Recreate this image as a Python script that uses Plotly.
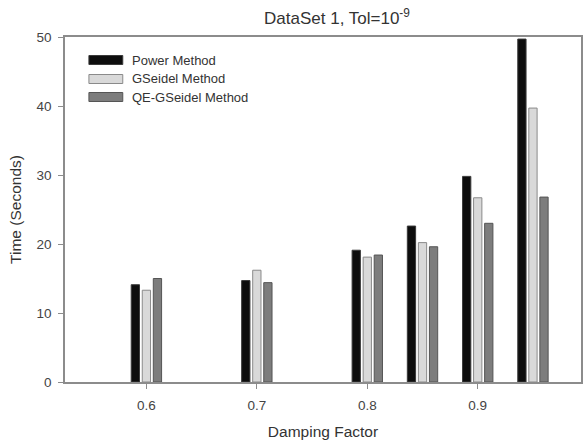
import plotly.graph_objects as go

damping = [0.6, 0.7, 0.8, 0.85, 0.9, 0.95]
power = [14.1, 14.7, 19.1, 22.6, 29.8, 49.7]
gseidel = [13.3, 16.2, 18.1, 20.2, 26.7, 39.7]
qe_gseidel = [15.0, 14.4, 18.4, 19.6, 23.0, 26.8]
series_names = ["Power Method", "GSeidel Method", "QE-GSeidel Method"]
x_ticks = [0.6, 0.7, 0.8, 0.9]
y_ticks = [0, 10, 20, 30, 40, 50]

fills = ["#0d0d0d", "#d9d9d9", "#7d7d7d"]
outlines = ["#3a3a3a", "#8a8a8a", "#555555"]
FONT = "Liberation Sans, Arial, sans-serif"

fig = go.Figure()
for name, vals, fc, lc in zip(series_names, [power, gseidel, qe_gseidel], fills, outlines):
    fig.add_trace(go.Bar(x=damping, y=vals, name=name, marker=dict(color=fc, line=dict(color=lc, width=1)),
                         showlegend=False))

W, H = 584, 443
L, R, T, B = 65, 1, 37, 61
pw, ph = W - L - R, H - T - B

# manual legend (wide swatches like the reference)
leg_y = [60, 79, 97]
for name, fc, lc, yc in zip(series_names, fills, outlines, leg_y):
    y0 = (H - B - (yc + 4.5)) / ph
    y1 = (H - B - (yc - 4.5)) / ph
    fig.add_shape(type="rect", xref="paper", yref="paper",
                  x0=(89 - L) / pw, x1=(123 - L) / pw, y0=y0, y1=y1,
                  fillcolor=fc, line=dict(color=lc, width=1))
    fig.add_annotation(xref="paper", yref="paper", x=(130 - L) / pw, y=(H - B - yc) / ph,
                       text=name, showarrow=False, xanchor="left", yanchor="middle",
                       font=dict(family=FONT, size=13, color="#333333"))

axis_line = "#8c8c8c"
fig.update_layout(
    width=W, height=H,
    margin=dict(l=L, r=R, t=T, b=B, pad=0),
    paper_bgcolor="white", plot_bgcolor="white",
    barmode="group", bargap=0.4, bargroupgap=0.25,
    title=dict(text="DataSet 1, Tol=10<sup>-9</sup>", x=337 / W, xref="container", xanchor="center",
               y=1 - 18 / H, yref="container", yanchor="middle",
               font=dict(family=FONT, size=17, color="#333333")),
    xaxis=dict(range=[0.5263, 0.9935], tickmode="array", tickvals=x_ticks,
               ticktext=[f"{v:.1f}" for v in x_ticks],
               ticks="outside", ticklen=5, tickcolor=axis_line, tickwidth=1,
               showline=True, linecolor=axis_line, linewidth=1.5, mirror=True,
               showgrid=False, zeroline=False, ticklabelstandoff=5,
               tickfont=dict(family=FONT, size=13.5, color="#444444"),
               title=dict(text="Damping Factor", standoff=14,
                          font=dict(family=FONT, size=15.5, color="#333333"))),
    yaxis=dict(range=[0, 50], tickmode="array", tickvals=y_ticks,
               ticks="outside", ticklen=5, tickcolor=axis_line, tickwidth=1,
               showline=True, linecolor=axis_line, linewidth=1.5, mirror=True,
               showgrid=False, zeroline=False, ticklabelstandoff=4,
               tickfont=dict(family=FONT, size=13.5, color="#444444"),
               title=dict(text="Time (Seconds)", standoff=11,
                          font=dict(family=FONT, size=15.5, color="#333333"))),
)

fig.write_html("out.html")
